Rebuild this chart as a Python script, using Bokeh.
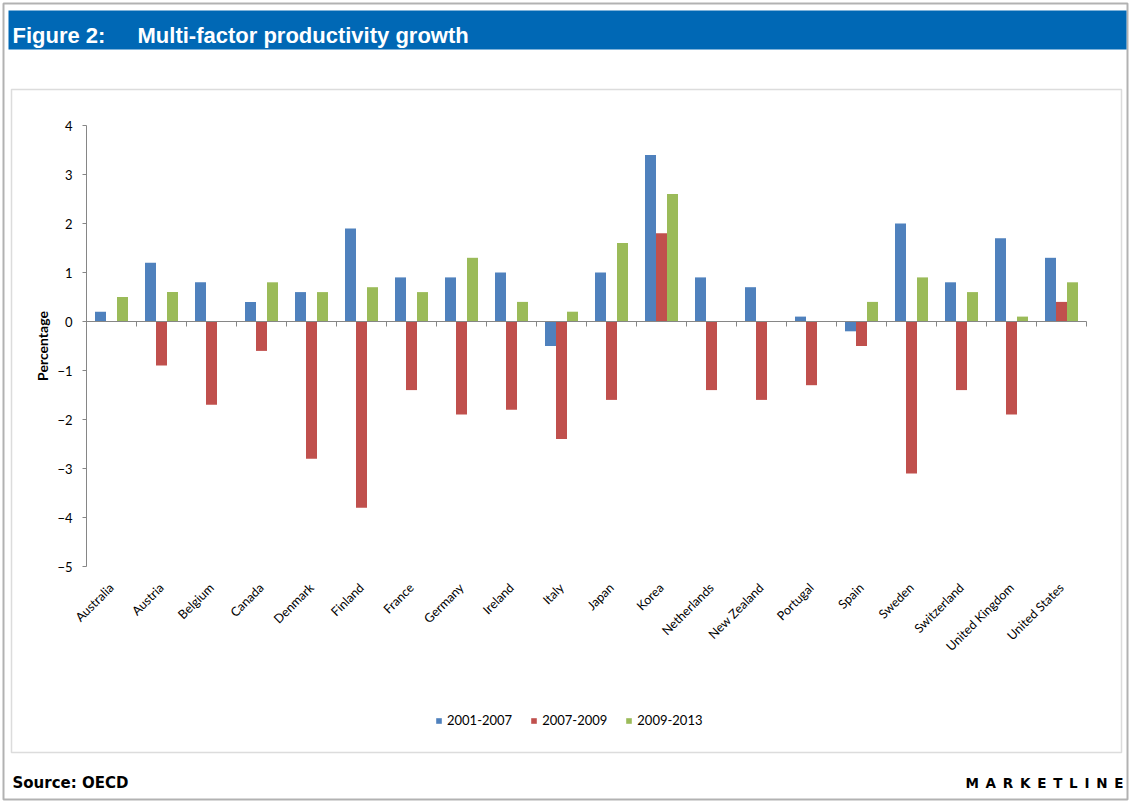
import numpy as np
from bokeh.plotting import figure
from bokeh.models import (ColumnDataSource, Range1d, LinearAxis, FixedTicker,
                          BoxAnnotation, Label, Legend, LegendItem)
from bokeh.embed import file_html
from bokeh.resources import INLINE

# ---------------- data ----------------
countries = ["Australia", "Austria", "Belgium", "Canada", "Denmark", "Finland",
             "France", "Germany", "Ireland", "Italy", "Japan", "Korea",
             "Netherlands", "New Zealand", "Portugal", "Spain", "Sweden",
             "Switzerland", "United Kingdom", "United States"]
s2001_2007 = [0.2, 1.2, 0.8, 0.4, 0.6, 1.9, 0.9, 0.9, 1.0, -0.5, 1.0, 3.4,
              0.9, 0.7, 0.1, -0.2, 2.0, 0.8, 1.7, 1.3]
s2007_2009 = [0.0, -0.9, -1.7, -0.6, -2.8, -3.8, -1.4, -1.9, -1.8, -2.4, -1.6, 1.8,
              -1.4, -1.6, -1.3, -0.5, -3.1, -1.4, -1.9, 0.4]
s2009_2013 = [0.5, 0.6, 0.0, 0.8, 0.6, 0.7, 0.6, 1.3, 0.4, 0.2, 1.6, 2.6,
              0.0, 0.0, 0.0, 0.4, 0.9, 0.6, 0.1, 0.8]
series_names = ["2001-2007", "2007-2009", "2009-2013"]
series_values = [s2001_2007, s2007_2009, s2009_2013]
series_colors = ["#4F81BD", "#C0504D", "#9BBB59"]
y_ticks = [-5, -4, -3, -2, -1, 0, 1, 2, 3, 4]
y_min, y_max = -5, 4

title_num = "Figure 2:"
title_text = "Multi-factor productivity growth"
source_text = "Source: OECD"
brand_text = "M\u2002A\u2002R\u2002K\u2002E\u2002T\u2002L\u2002I\u2002N\u2002E"

# ---------------- layout ----------------
W, H = 1133, 805
FL, FT, FR, FB = 86, 125, 1086, 566   # plot area in canvas pixels
AXIS_GREY = "#868686"
FONT = "Lato"

n = len(countries)
x_lo, x_hi = 0.5, n + 0.5
ppx = (FR - FL) / (x_hi - x_lo)          # pixels per category
ppy = (FB - FT) / (y_max - y_min)        # pixels per unit
# the frame fills the whole canvas; ranges chosen so the plot area sits at FL..FR / FT..FB
xr = Range1d(x_lo - FL / ppx, x_hi + (W - FR) / ppx)
yr = Range1d(y_min - (H - FB) / ppy, y_max + FT / ppy)

p = figure(width=W, height=H, x_range=xr, y_range=yr,
           output_backend="svg", toolbar_location=None,
           x_axis_type=None, y_axis_type=None,
           min_border=0, min_border_left=0, min_border_right=0,
           min_border_top=0, min_border_bottom=0)
p.grid.visible = False
p.outline_line_color = None
p.background_fill_color = "white"
p.border_fill_color = "white"

# bars
idx = np.arange(1, n + 1)
bw = 0.22
rends = []
for k, (vals, name, col) in enumerate(zip(series_values, series_names, series_colors)):
    src = ColumnDataSource(dict(x=idx + (k - 1) * bw, top=vals))
    r = p.vbar(x="x", top="top", bottom=0, width=bw, source=src,
               fill_color=col, line_color=None)
    rends.append(r)

# y axis
yax = LinearAxis(fixed_location=x_lo, bounds=(y_min, y_max),
                 ticker=FixedTicker(ticks=y_ticks),
                 axis_line_color=AXIS_GREY, major_tick_line_color=AXIS_GREY,
                 major_tick_out=4, major_tick_in=0, minor_tick_line_color=None,
                 major_label_text_font=FONT, major_label_text_font_size="13px",
                 major_label_text_color="black", major_label_standoff=10,
                 axis_label="Percentage", axis_label_text_font=FONT,
                 axis_label_text_font_style="bold", axis_label_text_font_size="14px",
                 axis_label_text_color="black", axis_label_standoff=3)
p.add_layout(yax, "left")

# zero line with category boundary ticks (minor ticks only, no labels)
zax = LinearAxis(fixed_location=0, bounds=(x_lo, x_hi),
                 ticker=FixedTicker(ticks=[], minor_ticks=list(np.arange(x_lo, x_hi + 0.5, 1.0))),
                 axis_line_color=AXIS_GREY, major_tick_line_color=None,
                 minor_tick_line_color=AXIS_GREY, minor_tick_out=5, minor_tick_in=0)
p.add_layout(zax, "below")

# category labels at the bottom of the plot area
xax = LinearAxis(fixed_location=y_min, bounds=(x_lo, x_hi),
                 ticker=FixedTicker(ticks=list(range(1, n + 1))),
                 major_label_overrides={i + 1: c for i, c in enumerate(countries)},
                 axis_line_color=None, major_tick_line_color=None,
                 minor_tick_line_color=None, major_tick_out=0, major_tick_in=0,
                 major_label_orientation=np.pi / 4,
                 major_label_text_font=FONT, major_label_text_font_size="12.5px",
                 major_label_text_color="black", major_label_standoff=19)
p.add_layout(xax, "below")

# legend
legend = Legend(items=[LegendItem(label=nm, renderers=[r]) for nm, r in zip(series_names, rends)],
                orientation="horizontal", location=(435, H - 712 - 16),
                glyph_width=7, glyph_height=7, label_height=16, label_standoff=5,
                spacing=18, padding=0, margin=0,
                border_line_color=None, background_fill_alpha=0,
                label_text_font=FONT, label_text_font_size="13px",
                label_text_color="black")
p.add_layout(legend)


# ---------- decorations (canvas px -> screen units, y up from bottom) ----------
def sy(y):
    return H - y


def box(x0, y0, x1, y1, **kw):
    b = BoxAnnotation(left=x0, right=x1, top=sy(y0), bottom=sy(y1),
                      left_units="screen", right_units="screen",
                      top_units="screen", bottom_units="screen", **kw)
    p.add_layout(b)


box(3, 3, 1127, 799, fill_alpha=0, line_color="black", line_width=2)
box(8, 10, 1126, 49, fill_color="#0068B5", fill_alpha=1, line_color=None)
box(11, 89, 1121, 752, fill_alpha=0, line_color="#8C8C8C", line_width=1.5)


def label(x, y, text, **kw):
    lb = Label(x=x, y=sy(y), x_units="screen", y_units="screen", text=text, **kw)
    p.add_layout(lb)


label(12, 35, title_num, text_font="Liberation Sans", text_font_style="bold",
      text_font_size="22px", text_color="white", text_baseline="alphabetic")
label(137, 35, title_text, text_font="Liberation Sans", text_font_style="bold",
      text_font_size="22px", text_color="white", text_baseline="alphabetic")
label(12, 782, source_text, text_font="DejaVu Sans", text_font_style="bold",
      text_font_size="15px", text_color="black", text_baseline="middle")
label(1123, 782, brand_text, text_font="DejaVu Sans", text_font_style="bold",
      text_font_size="13.5px", text_color="black", text_baseline="middle",
      text_align="right")

open("out.html", "w").write(file_html(p, INLINE))
